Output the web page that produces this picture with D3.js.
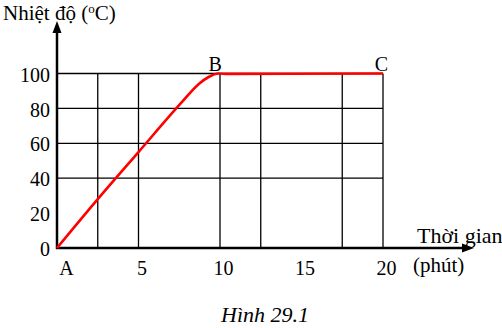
<!DOCTYPE html>
<html lang="vi">
<head>
  <meta charset="UTF-8">
  <title>Hình 29.1</title>
  <script src="https://d3js.org/d3.v7.min.js"></script>
  <style>
    body { margin: 0; background: #fff; }
  </style>
</head>
<body>
  <div id="chart"></div>

  <script>
    // data
    const times = [0, 2.5, 5, 7.7, 8.7, 9.3, 9.9, 10.5, 20];
    const temps = [0, 28, 55, 84, 94, 98, 100, 99.8, 100];
    const xTicks = [0, 5, 10, 15, 20];
    const xTickLabels = ["A", "5", "10", "15", "20"];
    const yTicks = [0, 20, 40, 60, 80, 100];
    const xGrid = [2.5, 5, 10, 12.5, 17.5, 20];
    const yGrid = [40, 60, 80, 100];
    const pointLabels = [{ name: "B", t: 9.7, v: 100 }, { name: "C", t: 19.9, v: 100 }];

    const width = 502, height = 328;
    const serif = "'Liberation Serif', 'DejaVu Serif', serif";

    const svg = d3.select("#chart").append("svg")
      .attr("width", width)
      .attr("height", height);

    const x = d3.scaleLinear().domain([0, 20]).range([57, 383]);
    const y = d3.scaleLinear().domain([0, 100]).range([248, 73.5]);

    // grid
    svg.append("g").selectAll("line")
      .data(xGrid)
      .enter().append("line")
      .attr("x1", d => x(d)).attr("x2", d => x(d))
      .attr("y1", y(0)).attr("y2", y(100))
      .attr("stroke", "#000").attr("stroke-width", 1.3);

    svg.append("g").selectAll("line")
      .data(yGrid)
      .enter().append("line")
      .attr("x1", x(0)).attr("x2", x(20))
      .attr("y1", d => y(d)).attr("y2", d => y(d))
      .attr("stroke", "#000").attr("stroke-width", 1.3);

    // axes (labels only, lines drawn with arrows below)
    const xAxis = svg.append("g")
      .attr("transform", `translate(0,${y(0)})`)
      .call(d3.axisBottom(x).tickValues(xTicks).tickSize(0).tickPadding(13)
        .tickFormat((d, i) => xTickLabels[i]));
    xAxis.select(".domain").remove();
    xAxis.selectAll("text")
      .attr("dx", (d, i) => i === 0 ? 9 : 3);

    const yAxis = svg.append("g")
      .attr("transform", `translate(${x(0)},0)`)
      .call(d3.axisLeft(y).tickValues(yTicks).tickSize(0).tickPadding(7));
    yAxis.select(".domain").remove();
    yAxis.selectAll("text").attr("dy", "0.38em");

    svg.selectAll(".tick text")
      .attr("font-family", null)
      .style("font-family", serif)
      .style("font-size", "20px")
      .attr("fill", "#000");

    // axis lines with arrowheads
    svg.append("line")
      .attr("x1", x(0)).attr("x2", x(0))
      .attr("y1", y(0) + 1).attr("y2", 28)
      .attr("stroke", "#000").attr("stroke-width", 2.5);
    svg.append("path")
      .attr("d", `M${x(0)},21 L${x(0) - 4.5},33 L${x(0) + 4.5},33 Z`)
      .attr("fill", "#000");

    svg.append("line")
      .attr("x1", x(0) - 1).attr("x2", 466)
      .attr("y1", y(0)).attr("y2", y(0))
      .attr("stroke", "#000").attr("stroke-width", 2.5);
    svg.append("path")
      .attr("d", `M474,${y(0)} L462,${y(0) - 4.5} L462,${y(0) + 4.5} Z`)
      .attr("fill", "#000");

    // heating curve
    const line = d3.line()
      .x((d, i) => x(times[i]))
      .y(d => y(d))
      .curve(d3.curveMonotoneX);

    svg.append("path")
      .datum(temps)
      .attr("d", line)
      .attr("fill", "none")
      .attr("stroke", "#ff0000")
      .attr("stroke-width", 2.6);

    // point labels
    svg.selectAll(".pt")
      .data(pointLabels)
      .enter().append("text")
      .attr("x", d => x(d.t))
      .attr("y", d => y(d.v) - 3)
      .attr("text-anchor", "middle")
      .style("font-family", serif)
      .style("font-size", "20px")
      .text(d => d.name);

    // axis titles
    const yTitle = svg.append("text")
      .attr("x", 3).attr("y", 20)
      .style("font-family", serif)
      .style("font-size", "21px");
    yTitle.append("tspan").text("Nhiệt độ (");
    yTitle.append("tspan").attr("dy", -7).style("font-size", "13px").text("o");
    yTitle.append("tspan").attr("dy", 7).text("C)");

    svg.append("text")
      .attr("x", 417).attr("y", 243)
      .style("font-family", serif)
      .style("font-size", "22px")
      .text("Thời gian");

    svg.append("text")
      .attr("x", 413).attr("y", 272)
      .style("font-family", serif)
      .style("font-size", "21px")
      .text("(phút)");

    // caption
    svg.append("text")
      .attr("x", 265).attr("y", 322)
      .attr("text-anchor", "middle")
      .style("font-family", serif)
      .style("font-size", "22px")
      .style("font-style", "italic")
      .text("Hình 29.1");
  </script>
</body>
</html>
